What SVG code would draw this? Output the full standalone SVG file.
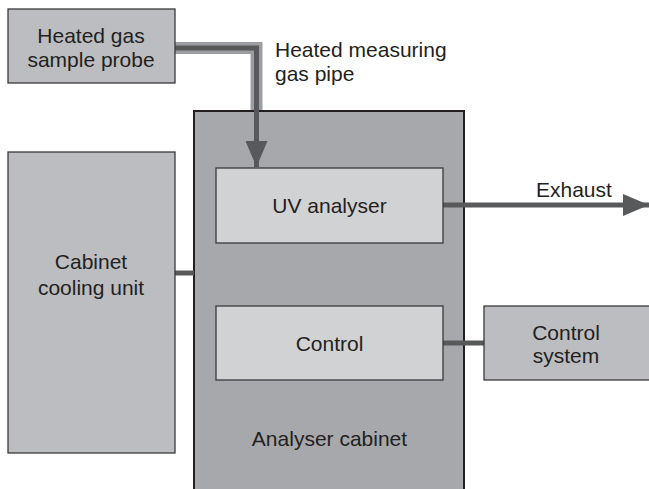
<svg xmlns="http://www.w3.org/2000/svg" width="649" height="489" viewBox="0 0 649 489">
<style>
text{font-family:"Liberation Sans",Arial,sans-serif;font-size:21px;fill:#231f20}
.box{stroke:#3a3a3c;stroke-width:1.3}
.outer{fill:#bcbdc0}
.inner{fill:#d1d2d4}
.cab{fill:#a7a8ab;stroke:#231f20;stroke-width:2}
.conn{stroke:#58595b;stroke-width:5;fill:none}
</style>
<defs>
<marker id="ah" markerUnits="userSpaceOnUse" markerWidth="26" markerHeight="22" refX="26" refY="11" orient="auto">
<path d="M0,0 L26,11 L0,22 Z" fill="#58595b"/>
</marker>
</defs>
<g id="cabinet">
<rect class="cab" x="194" y="111" width="270" height="390"/>
<text x="329.5" y="446" text-anchor="middle">Analyser cabinet</text>
</g>
<g id="connectors">
<path d="M175,48 H256.5 V110" stroke="#9d9ea1" stroke-width="12" fill="none"/>
<path d="M175,48 H256.5 V167" class="conn" marker-end="url(#ah)"/>
<path d="M443,205 H649" class="conn" marker-end="url(#ah)"/>
<path d="M175,273 H194" class="conn"/>
<path d="M443,343 H484" class="conn"/>
</g>
<g id="probe">
<rect class="box outer" x="8" y="9" width="167" height="74"/>
<text x="91" y="43" text-anchor="middle">Heated gas</text>
<text x="91" y="67" text-anchor="middle">sample probe</text>
</g>
<g id="pipe-label">
<text x="275" y="57">Heated measuring</text>
<text x="275" y="81">gas pipe</text>
</g>
<g id="uv">
<rect class="box inner" x="216" y="168" width="227" height="75"/>
<text x="329.5" y="213" text-anchor="middle">UV analyser</text>
</g>
<g id="exhaust">
<text x="536" y="197">Exhaust</text>
</g>
<g id="cooling">
<rect class="box outer" x="8" y="152" width="167" height="301"/>
<text x="91" y="269" text-anchor="middle">Cabinet</text>
<text x="91" y="295" text-anchor="middle">cooling unit</text>
</g>
<g id="control">
<rect class="box inner" x="216" y="306" width="227" height="74"/>
<text x="329.5" y="351" text-anchor="middle">Control</text>
</g>
<g id="control-system">
<rect class="box outer" x="484" y="306" width="170" height="74"/>
<text x="566" y="340" text-anchor="middle">Control</text>
<text x="566" y="363" text-anchor="middle">system</text>
</g>
</svg>
